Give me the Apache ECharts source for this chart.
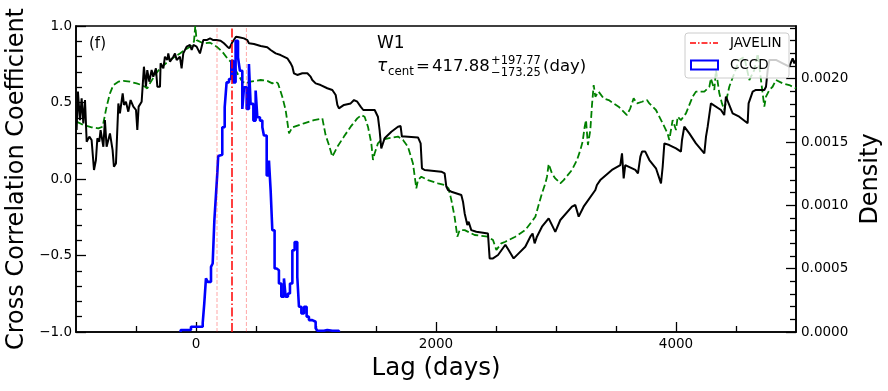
<!DOCTYPE html>
<html>
<head>
<meta charset="utf-8">
<script src="https://cdn.jsdelivr.net/npm/echarts@6.0.0/dist/echarts.min.js"></script>
<style>html,body{margin:0;padding:0;background:#fff}#chart{width:888px;height:391px}</style>
</head>
<body>
<div id="chart"></div>
<script>
// ICCF (black solid)
const iccfLag = [-995,-984,-967,-953,-939,-925,-911,-889,-870,-850,-834,-822,-806,-795,-772,-759,-745,-717,-695,-684,-667,-647,-634,-611,-600,-584,-564,-545,-522,-500,-489,-478,-453,-434,-417,-406,-389,-370,-356,-334,-322,-300,-295,-272,-259,-239,-231,-217,-189,-175,-161,-134,-120,-106,-78,-50,-36,-22,5,33,61,89,117,144,172,205,233,261,278,300,333,358,400,428,441,455,483,539,594,622,636,664,705,761,789,803,816,844,886,928,955,969,997,1039,1094,1136,1164,1178,1191,1233,1289,1317,1344,1372,1394,1489,1516,1530,1544,1572,1628,1683,1705,1716,1739,1850,1872,1883,1905,2044,2072,2086,2100,2128,2211,2225,2239,2261,2272,2294,2336,2433,2447,2475,2517,2578,2605,2647,2689,2744,2786,2805,2822,2841,2883,2939,2980,2994,3036,3133,3161,3189,3230,3328,3341,3369,3466,3536,3550,3564,3577,3661,3683,3703,3717,3744,3778,3833,3875,3889,3903,3916,3944,4000,4041,4050,4069,4111,4166,4236,4250,4264,4278,4291,4305,4375,4402,4416,4430,4472,4527,4597,4605,4639,4666,4736,4750,4764,4778,4833,4889,4944,4972,4986,5000];
const iccfR = [0.32,0.571,0.385,0.527,0.364,0.516,0.244,0.277,0.255,0.059,0.124,0.266,0.244,0.32,0.211,0.385,0.211,0.298,0.189,0.08,0.102,0.494,0.429,0.56,0.484,0.505,0.44,0.516,0.473,0.451,0.32,0.473,0.505,0.734,0.603,0.712,0.636,0.712,0.669,0.723,0.603,0.603,0.756,0.723,0.799,0.778,0.821,0.767,0.799,0.821,0.778,0.799,0.723,0.821,0.865,0.876,0.843,0.876,0.865,0.821,0.908,0.908,0.919,0.908,0.908,0.904,0.887,0.865,0.854,0.89,0.93,0.926,0.919,0.908,0.887,0.898,0.882,0.869,0.861,0.843,0.832,0.821,0.81,0.789,0.756,0.734,0.691,0.68,0.691,0.691,0.669,0.647,0.625,0.614,0.593,0.582,0.549,0.484,0.462,0.484,0.494,0.516,0.505,0.473,0.451,0.451,0.407,0.32,0.2,0.266,0.309,0.342,0.346,0.277,0.277,0.272,0.233,0.07,0.059,0.048,0.037,-0.05,-0.072,-0.083,-0.105,-0.148,-0.225,-0.301,-0.279,-0.334,-0.345,-0.356,-0.519,-0.519,-0.497,-0.43,-0.464,-0.519,-0.486,-0.443,-0.377,-0.356,-0.421,-0.377,-0.312,-0.257,-0.323,-0.345,-0.268,-0.181,-0.17,-0.246,-0.181,-0.072,-0.039,-0.007,0.059,0.091,0.168,0.004,0.091,0.059,0.037,0.146,0.179,0.179,0.124,0.07,-0.029,0.08,0.233,0.244,0.222,0.2,0.179,0.255,0.342,0.298,0.233,0.168,0.277,0.342,0.353,0.494,0.505,0.451,0.418,0.538,0.549,0.429,0.407,0.364,0.494,0.571,0.582,0.582,0.603,0.712,0.778,0.778,0.756,0.734,0.789,0.756,0.778];

// second CCF (green dashed)
const ccf2Lag = [-995,-939,-870,-814,-778,-745,-717,-689,-647,-606,-550,-495,-453,-425,-406,-384,-342,-300,-217,-134,-50,-17,-6,5,61,117,172,219,261,303,344,386,414,455,539,594,636,664,683,719,747,775,803,900,983,1053,1080,1108,1136,1178,1233,1289,1344,1378,1405,1433,1461,1475,1489,1516,1544,1600,1683,1725,1766,1808,1836,1850,1878,1933,2016,2072,2105,2128,2155,2178,2197,2239,2322,2433,2475,2503,2544,2578,2661,2744,2828,2855,2883,2911,2925,2939,2966,2994,3036,3064,3133,3175,3203,3222,3239,3250,3266,3286,3300,3314,3328,3355,3397,3439,3522,3591,3619,3647,3675,3717,3758,3778,3833,3889,3930,3944,3972,4000,4014,4041,4083,4139,4166,4236,4278,4291,4319,4333,4361,4383,4402,4444,4486,4527,4569,4611,4652,4681,4694,4722,4736,4750,4778,4805,4833,4889,4944,5000];
const ccf2R = [0.375,0.353,0.338,0.331,0.342,0.473,0.56,0.614,0.636,0.641,0.636,0.625,0.614,0.603,0.592,0.625,0.68,0.723,0.778,0.821,0.865,0.898,1.0,0.908,0.887,0.891,0.865,0.832,0.789,0.756,0.691,0.636,0.625,0.636,0.647,0.641,0.625,0.636,0.625,0.538,0.451,0.298,0.338,0.364,0.385,0.396,0.287,0.222,0.146,0.211,0.277,0.342,0.396,0.418,0.407,0.342,0.233,0.124,0.168,0.233,0.255,0.266,0.277,0.255,0.211,0.102,-0.061,-0.007,0.015,-0.007,-0.028,-0.039,-0.061,-0.138,-0.247,-0.377,-0.334,-0.334,-0.366,-0.377,-0.399,-0.464,-0.421,-0.41,-0.377,-0.334,-0.247,-0.17,-0.094,-0.029,0.015,0.098,0.037,0.004,-0.028,-0.007,0.059,0.124,0.189,0.244,0.342,0.385,0.222,0.32,0.484,0.614,0.538,0.571,0.527,0.516,0.473,0.418,0.462,0.527,0.494,0.505,0.516,0.494,0.451,0.364,0.298,0.255,0.385,0.32,0.407,0.385,0.429,0.538,0.571,0.571,0.603,0.658,0.582,0.712,0.56,0.494,0.451,0.603,0.691,0.778,0.799,0.647,0.712,0.82,0.821,0.56,0.473,0.538,0.582,0.603,0.647,0.625,0.614,0.592];

// CCCD histogram: left bin edges and density
const cccdEdge = [-128,-42,56,69,83,97,125,139,153,167,178,185,191,219,239,255,275,294,311,330,350,366,386,400,422,441,455,478,497,511,533,553,566,589,608,622,636,655,672,691,711,733,747,766,783,803,822,844,858,878,900,922,941,969,997,1011,1066,1094,1136,1150,1191];
const cccdDensity = [1.6e-5,4.2e-5,7.3e-5,2.26e-4,4.23e-4,3.96e-4,5.14e-4,5.41e-4,8.82e-4,1.092e-3,1.26e-3,1.39e-3,1.40e-3,1.617e-3,1.774e-3,1.971e-3,1.997e-3,2.142e-3,1.971e-3,2.299e-3,2.168e-3,2.063e-3,1.761e-3,1.932e-3,1.761e-3,2.115e-3,1.801e-3,1.669e-3,1.906e-3,1.696e-3,1.669e-3,1.617e-3,1.551e-3,1.236e-3,1.354e-3,1.118e-3,8.03e-4,5.01e-4,4.88e-4,3.83e-4,2.78e-4,4.23e-4,2.78e-4,3.04e-4,3.83e-4,6.46e-4,7.11e-4,4.36e-4,1.99e-4,1.47e-4,1.99e-4,1.21e-4,9.4e-5,8.1e-5,2.9e-5,1.0e-5,1.6e-5,1.0e-5,2.0e-5,1.0e-5,0];

// JAVELIN lag and its bounds
const javelinLag = 300;
const javelinBounds = [175, 420];

const xMajor = [0, 2000, 4000];
const xMinor = [-500, 500, 1000, 1500, 2500, 3000, 3500, 4500];
const rMajor = [-1, -0.5, 0, 0.5, 1];
const rMinor = [-0.9,-0.8,-0.7,-0.6,-0.4,-0.3,-0.2,-0.1,0.1,0.2,0.3,0.4,0.6,0.7,0.8,0.9];
const dMajor = [0, 0.0005, 0.001, 0.0015, 0.002];
const dMinor = [0.0001,0.0002,0.0003,0.0004,0.0006,0.0007,0.0008,0.0009,0.0011,0.0012,0.0013,0.0014,0.0016,0.0017,0.0018,0.0019,0.0021,0.0022,0.0023,0.0024];

const FONT = 'DejaVu Sans';

const iccfData = iccfLag.map((x, i) => [x, iccfR[i]]);
const ccf2Data = ccf2Lag.map((x, i) => [x, ccf2R[i]]);
const cccdData = [[cccdEdge[0], 0]].concat(cccdEdge.map((x, i) => [x, cccdDensity[i]]));

const tickStyle = { color: '#000', width: 1.3 };

function minorAxis(base, vals) {
  return Object.assign({
    type: 'value',
    axisLine: { show: false, onZero: false },
    axisTick: { show: true, inside: true, length: 6, customValues: vals, lineStyle: tickStyle },
    axisLabel: { show: false },
    splitLine: { show: false }
  }, base);
}

const chart = echarts.init(document.getElementById('chart'), null, { renderer: 'canvas' });
chart.setOption({
  animation: false,
  grid: {
    left: 76, right: 92, top: 26, bottom: 59,
    show: true, borderColor: '#000', borderWidth: 1.6,
    containLabel: false, outerBoundsMode: 'none'
  },
  xAxis: [
    {
      type: 'value', min: -1000, max: 5000, position: 'bottom',
      axisLine: { show: true, onZero: false, lineStyle: { color: '#000', width: 1.6 } },
      axisTick: { show: true, inside: true, length: 10, customValues: xMajor, lineStyle: tickStyle },
      axisLabel: { customValues: xMajor, color: '#000', fontFamily: FONT, fontSize: 13.5, margin: 5, formatter: v => String(v) },
      splitLine: { show: false },
      name: 'Lag (days)', nameLocation: 'middle', nameGap: 23,
      nameTextStyle: { color: '#000', fontFamily: FONT, fontSize: 24.5 }
    },
    minorAxis({ min: -1000, max: 5000, position: 'bottom' }, xMinor)
  ],
  yAxis: [
    {
      type: 'value', min: -1, max: 1, position: 'left',
      axisLine: { show: true, onZero: false, lineStyle: { color: '#000', width: 1.6 } },
      axisTick: { show: true, inside: true, length: 10, customValues: rMajor, lineStyle: tickStyle },
      axisLabel: {
        customValues: rMajor, color: '#000', fontFamily: FONT, fontSize: 13.5, margin: 4,
        formatter: v => (v < 0 ? '\u2212' : '') + Math.abs(v).toFixed(1)
      },
      splitLine: { show: false },
      name: 'Cross Correlation Coefficient', nameLocation: 'middle', nameGap: 44, nameRotate: 90,
      nameTextStyle: { color: '#000', fontFamily: FONT, fontSize: 24 }
    },
    minorAxis({ min: -1, max: 1, position: 'left' }, rMinor),
    {
      type: 'value', min: 0, max: 0.002416, position: 'right',
      axisLine: { show: true, onZero: false, lineStyle: { color: '#000', width: 1.6 } },
      axisTick: { show: true, inside: true, length: 10, customValues: dMajor, lineStyle: tickStyle },
      axisLabel: {
        customValues: dMajor, color: '#000', fontFamily: FONT, fontSize: 13.5, margin: 5,
        formatter: v => v.toFixed(4)
      },
      splitLine: { show: false },
      name: 'Density', nameLocation: 'middle', nameGap: 58, nameRotate: 90,
      nameTextStyle: { color: '#000', fontFamily: FONT, fontSize: 24 }
    },
    minorAxis({ min: 0, max: 0.002416, position: 'right' }, dMinor)
  ],
  series: [
    {
      name: 'ICCF', type: 'line', data: iccfData, xAxisIndex: 0, yAxisIndex: 0,
      symbol: 'none', lineStyle: { color: '#000', width: 2 }, z: 3
    },
    {
      name: 'CCF2', type: 'line', data: ccf2Data, xAxisIndex: 0, yAxisIndex: 0,
      symbol: 'none', lineStyle: { color: '#008000', width: 1.8, type: [7, 3.2] }, z: 2
    },
    {
      name: 'CCCD', type: 'line', data: cccdData, step: 'end', xAxisIndex: 0, yAxisIndex: 2,
      symbol: 'none', lineStyle: { color: '#0000ff', width: 2.6 }, z: 4
    },
    {
      name: 'JAVELIN low', type: 'line', data: [[javelinBounds[0], -1], [javelinBounds[0], 1]],
      symbol: 'none', lineStyle: { color: 'rgba(255,0,0,0.35)', width: 1, type: [4, 2] }, z: 5
    },
    {
      name: 'JAVELIN high', type: 'line', data: [[javelinBounds[1], -1], [javelinBounds[1], 1]],
      symbol: 'none', lineStyle: { color: 'rgba(255,0,0,0.35)', width: 1, type: [4, 2] }, z: 5
    },
    {
      name: 'JAVELIN', type: 'line', data: [[javelinLag, -1], [javelinLag, 1]],
      symbol: 'none', lineStyle: { color: '#ff0000', width: 1.5, type: [9, 2.5, 1.5, 2.5] }, z: 6
    }
  ],
  graphic: [
    { type: 'text', x: 89, y: 44, z: 50, style: { text: '(f)', font: '15px "DejaVu Sans"', fill: '#000', align: 'left', verticalAlign: 'middle' } },
    { type: 'text', x: 377, y: 44, z: 50, style: { text: 'W1', font: '17px "DejaVu Sans"', fill: '#000', align: 'left', verticalAlign: 'middle' } },
    { type: 'text', x: 377, y: 67, z: 50, style: { text: 'τ', font: 'italic 17px "DejaVu Sans"', fill: '#000', align: 'left', verticalAlign: 'middle' } },
    { type: 'text', x: 388, y: 72, z: 50, style: { text: 'cent', font: '11.8px "DejaVu Sans"', fill: '#000', align: 'left', verticalAlign: 'middle' } },
    { type: 'text', x: 416, y: 67, z: 50, style: { text: '=', font: '16.5px "DejaVu Sans"', fill: '#000', align: 'left', verticalAlign: 'middle' } },
    { type: 'text', x: 432, y: 67, z: 50, style: { text: '417.88', font: '16.5px "DejaVu Sans"', fill: '#000', align: 'left', verticalAlign: 'middle' } },
    { type: 'text', x: 491, y: 61, z: 50, style: { text: '+197.77', font: '11.5px "DejaVu Sans"', fill: '#000', align: 'left', verticalAlign: 'middle' } },
    { type: 'text', x: 491, y: 73, z: 50, style: { text: '\u2212173.25', font: '11.5px "DejaVu Sans"', fill: '#000', align: 'left', verticalAlign: 'middle' } },
    { type: 'text', x: 543, y: 67, z: 50, style: { text: '(day)', font: '16.5px "DejaVu Sans"', fill: '#000', align: 'left', verticalAlign: 'middle' } },
    // legend
    { type: 'rect', z: 60, shape: { x: 685, y: 33, width: 104, height: 45, r: 3 }, style: { fill: 'rgba(255,255,255,0.8)', stroke: '#cccccc', lineWidth: 1 } },
    { type: 'line', z: 61, shape: { x1: 690, y1: 43, x2: 718, y2: 43 }, style: { stroke: '#ff0000', lineWidth: 1.5, lineDash: [6, 2, 1.5, 2] } },
    { type: 'rect', z: 61, shape: { x: 691, y: 60.5, width: 27, height: 9 }, style: { fill: 'none', stroke: '#0000ff', lineWidth: 2 } },
    { type: 'text', x: 730, y: 43, z: 61, style: { text: 'JAVELIN', font: '13.5px "DejaVu Sans"', fill: '#000', align: 'left', verticalAlign: 'middle' } },
    { type: 'text', x: 730, y: 65, z: 61, style: { text: 'CCCD', font: '13.5px "DejaVu Sans"', fill: '#000', align: 'left', verticalAlign: 'middle' } }
  ]
});
</script>
</body>
</html>
